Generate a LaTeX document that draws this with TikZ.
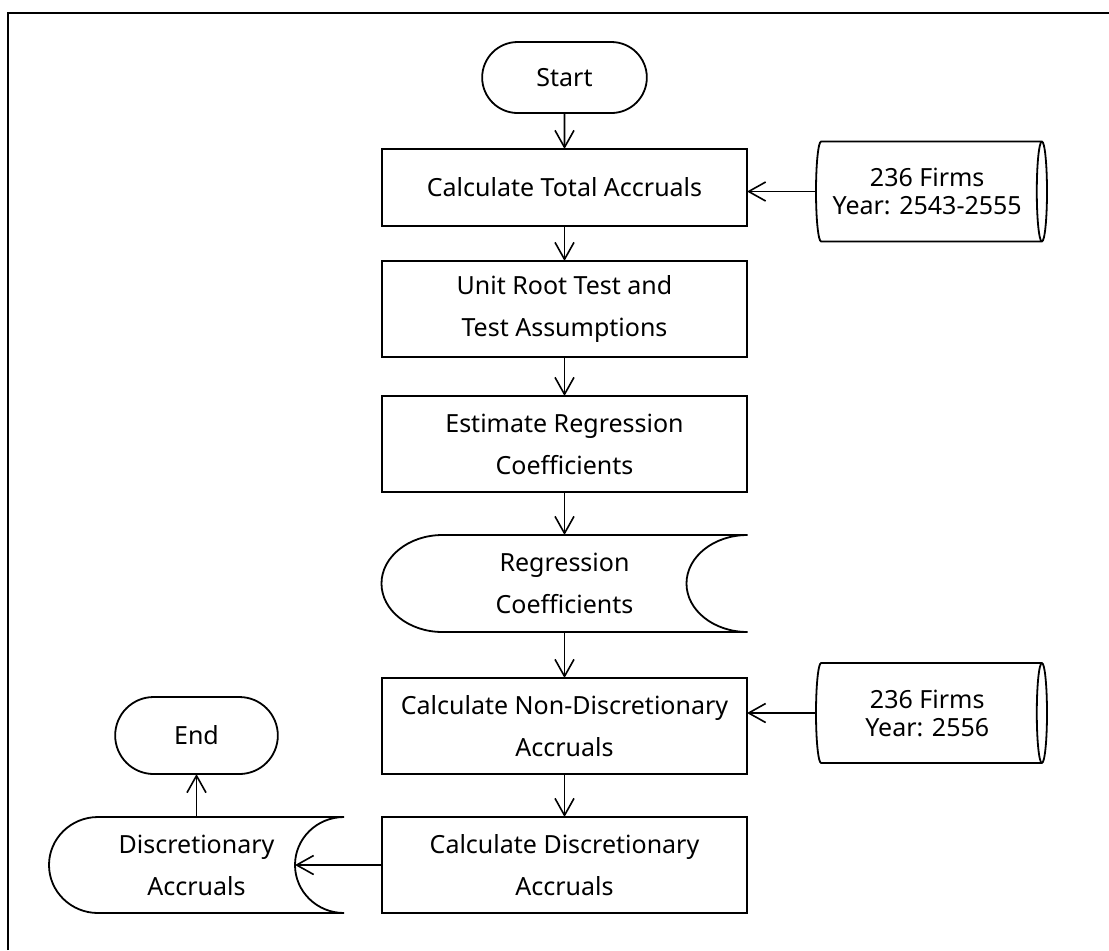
\documentclass[tikz,border=0pt]{standalone}
\usepackage{fontspec}
\setmainfont{Noto Sans}
\usetikzlibrary{arrows.meta,positioning,shapes.geometric,shapes.misc,calc}

% stored data outline round a plain node: #1 node, #2 curve depth, #3 half height
\newcommand{\storedshape}[3]{%
  \draw[line width=0.9pt] ($(#1.north west)+(#2,0)$) -- (#1.north east)
    arc[start angle=90, end angle=270, x radius=#2, y radius=#3]
    -- ($(#1.south west)+(#2,0)$)
    arc[start angle=270, end angle=90, x radius=#2, y radius=#3] -- cycle;
  \coordinate (#1-in) at ($(#1.east)-(#2,0)$);
}

\begin{document}
\begin{tikzpicture}[
  x=0.5pt, y=-0.5pt,
  every node/.style={font=\fontsize{12.5}{21}\selectfont, outer sep=0pt},
  terminal/.style={rounded rectangle, draw, line width=0.9pt, minimum width=89pt, minimum height=35.5pt},
  process/.style={rectangle, draw, line width=0.9pt, minimum width=182.5pt, minimum height=48pt, align=center},
  stored/.style={rectangle, minimum width=183pt, minimum height=48.5pt, align=center},
  database/.style={cylinder, draw, line width=0.9pt, aspect=0.17, minimum height=115.5pt, minimum width=50pt, align=center, font=\fontsize{12.5}{14}\selectfont},
  arr/.style={-{Straight Barb[length=8.5pt,width=9.5pt]}, line width=0.8pt},
]
\useasboundingbox (0,0) rectangle (1109,950);

% frame
\draw[line width=1pt] (8,950) -- (8,13) -- (1109,13);

% main column
\node[terminal] (start) at (564.5,77.5) {Start};
\node[process, minimum height=38.5pt, below=18pt of start] (calc) {Calculate Total Accruals};
\node[process, below=17.5pt of calc] (unit) {Unit Root Test and\\Test Assumptions};
\node[process, below=19.5pt of unit] (est) {Estimate Regression\\Coefficients};
\node[stored, below=21.5pt of est] (coef) {Regression\\Coefficients};
\node[process, below=23pt of coef] (nonda) {Calculate Non-Discretionary\\Accruals};
\node[process, below=21.5pt of nonda] (da) {Calculate Discretionary\\Accruals};

% left branch
\node[stored, minimum width=147.5pt, minimum height=48pt, left=19pt of da] (dacc) {Discretionary\\Accruals};
\node[terminal, minimum width=88pt, minimum height=38.5pt, above=21.5pt of dacc] (finish) {End};

% data sources
\node[database, right=34.5pt of calc, yshift=-2pt] (firmsA) {236 Firms\\Year: 2543-2555};
\node[database, right=34.5pt of nonda, yshift=6.5pt] (firmsB) {236 Firms\\Year: 2556};

\storedshape{coef}{30.5pt}{24.25pt}
\storedshape{dacc}{24.5pt}{24pt}

% connectors
\draw[arr] (start) -- (calc);
\draw[arr] (calc) -- (unit);
\draw[arr] (unit) -- (est);
\draw[arr] (est) -- (coef);
\draw[arr] (coef) -- (nonda);
\draw[arr] (nonda) -- (da);
\draw[arr] (firmsA.west) -- (calc.east |- firmsA.west);
\draw[arr] (firmsB.west) -- (nonda.east |- firmsB.west);
\draw[arr] (da.west) -- (dacc-in);
\draw[arr] (dacc.north) -- (dacc.north |- finish.south);

\end{tikzpicture}
\end{document}
